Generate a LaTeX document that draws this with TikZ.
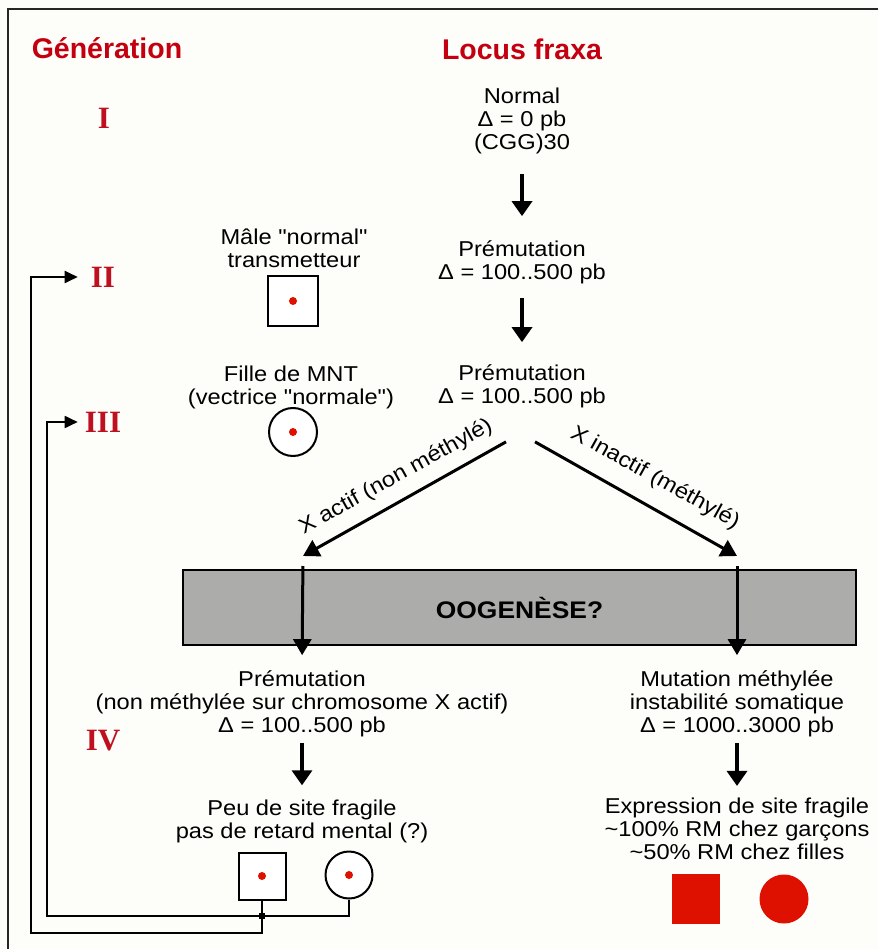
\documentclass[tikz,border=0pt]{standalone}
\usepackage{fontspec}
\setmainfont{Liberation Sans}
\newfontfamily\bodyfont[FakeStretch=1.1]{Liberation Sans}
\newfontfamily\headfont{Liberation Sans}
\newfontfamily\romfont{Liberation Serif}
\usetikzlibrary{arrows.meta}
\definecolor{headred}{RGB}{196,0,16}
\definecolor{romred}{RGB}{190,16,30}
\definecolor{fillred}{RGB}{222,16,0}
\definecolor{bandgray}{RGB}{172,172,170}
\definecolor{paper}{RGB}{253,253,250}
\begin{document}
\begin{tikzpicture}[x=1pt,y=-1pt,
  txt/.style={font=\bodyfont\fontsize{21.5}{23}\selectfont, align=center, inner sep=0pt},
  head/.style={font=\headfont\bfseries\fontsize{28.5}{30}\selectfont, text=headred, inner sep=0pt},
  rom/.style={font=\romfont\bfseries\fontsize{31}{32}\selectfont, text=romred, inner sep=0pt},
  flow/.style={line width=3.5pt, -{Triangle[width=20pt,length=15pt]}},
  diag/.style={line width=3pt, -{Triangle[width=18pt,length=16pt]}},
  conn/.style={line width=1.8pt},
  genarrow/.style={line width=1.8pt, -{Triangle[width=12pt,length=13pt]}},
  sym/.style={draw, line width=2pt, fill=white, inner sep=0pt},
  reddot/.style={fill=fillred, circle, inner sep=0pt, minimum size=8pt},
  band/.style={draw, line width=2pt, fill=bandgray, minimum width=673pt, minimum height=75pt, inner sep=0pt,
     font=\bodyfont\bfseries\fontsize{24}{26}\selectfont}
]
\useasboundingbox (0,0) rectangle (878,949);
\fill[paper] (0,0) rectangle (878,949);
\draw[line width=2pt, black!85] (878,9.5) -- (8,9.5) -- (8,949);

% headers
\node[head] (hgen) at (107,48) {Génération};
\node[head] (hloc) at (522,49) {Locus fraxa};

% generation numerals
\node[rom] (gI) at (104,118) {I};
\node[rom] (gII) at (103,277) {II};
\node[rom] (gIII) at (103,422) {III};
\node[rom] (gIV) at (103,741) {IV};

% central column
\node[txt] (normal) at (522,121) {Normal\\Δ = 0 pb\\(CGG)30};
\node[txt] (prem1) at (522,262) {Prémutation\\Δ = 100..500 pb};
\node[txt] (prem2) at (522,386) {Prémutation\\Δ = 100..500 pb};
\draw[flow, shorten <=20pt, shorten >=24pt] (normal.south) -- (prem1.north);
\draw[flow, shorten <=14pt, shorten >=22pt] (prem1.south) -- (prem2.north);

% pedigree left
\node[txt] (male) at (294,248) {Mâle "normal"\\transmetteur};
\node[sym, minimum size=50pt] (m2) at (293,301) {};
\node[reddot] at (m2) {};
\node[txt] (fille) at (291,387) {Fille de MNT\\(vectrice "normale")};
\node[sym, circle, minimum size=48pt] (f3) at (293,432) {};
\node[reddot] at (f3) {};

% diagonal arrows
\coordinate (dl) at (303,556);
\coordinate (dr) at (737,556);
\draw[diag] ([shift={(-16,34)}]prem2.south) -- (dl);
\draw[diag] ([shift={(13,34)}]prem2.south) -- (dr);
\node[txt, rotate=29] (labl) at (396,477) {X actif (non méthylé)};
\node[txt, rotate=-29] (labr) at (655,478) {X inactif (méthylé)};

% band
\node[band] (band) at (519.5,607.5) {OOGENÈSE?};

% lower blocks
\node[txt] (lprem) at (302,703.5) {Prémutation\\(non méthylée sur chromosome X actif)\\Δ = 100..500 pb};
\node[txt] (rmut) at (737,703.5) {Mutation méthylée\\instabilité somatique\\Δ = 1000..3000 pb};
\draw[diag, shorten <=10pt, shorten >=15pt] (dl) -- (lprem.north);
\draw[diag, shorten <=10pt, shorten >=15pt] (dr) -- (rmut.north);

\node[txt] (peu) at (302,821) {Peu de site fragile\\pas de retard mental (?)};
\node[txt] (expr) at (737,829) {Expression de site fragile\\\char"7E 100\% RM chez garçons\\\char"7E 50\% RM chez filles};
\draw[flow, shorten <=6pt, shorten >=14pt] (lprem.south) -- (peu.north);
\draw[flow, shorten <=6pt, shorten >=12pt] (rmut.south) -- (expr.north);

% generation IV symbols
\node[sym, minimum size=47pt] (m4) at (262,876) {};
\node[reddot] at (m4) {};
\node[sym, circle, minimum size=47pt] (f4) at (349,875) {};
\node[reddot] at (f4) {};
\node[fill=fillred, minimum width=48pt, minimum height=50pt, inner sep=0pt] (rsq) at (696,899) {};
\node[fill=fillred, circle, minimum size=49pt, inner sep=0pt] (rci) at (784,899) {};

% mating / descent lines
\coordinate (jn) at (262,916);
\coordinate (b2) at (262,933);
\coordinate (c2) at (31,277);
\coordinate (c3) at (47,422);
\draw[conn] (f4.south) |- (jn);
\draw[genarrow, shorten >=13pt] (m4.south) -- (b2) -| (c2) -- (gII.west);
\draw[genarrow, shorten >=7pt] (jn) -| (c3) -- (gIII.west);
\node[fill=black, minimum size=6pt, inner sep=0pt] (jdot) at (jn) {};
\end{tikzpicture}
\end{document}
